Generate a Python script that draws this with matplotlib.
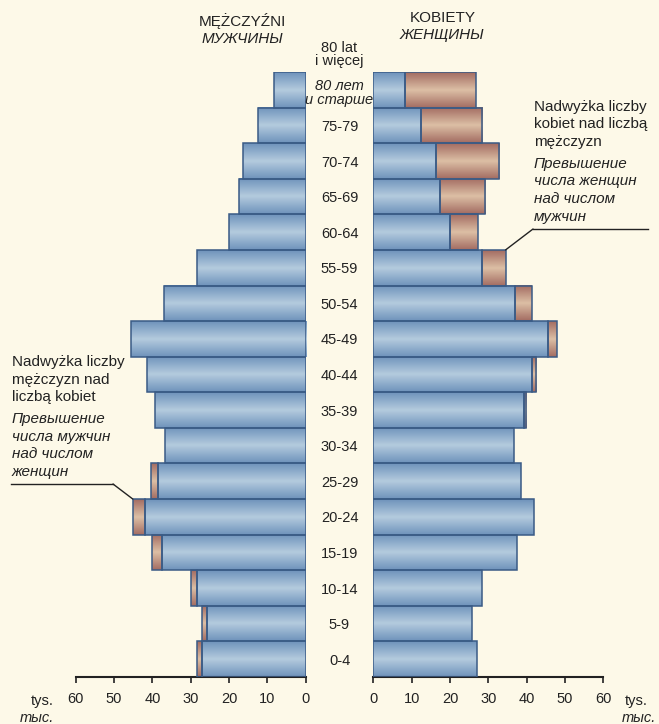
import numpy as np
import matplotlib.pyplot as plt
import matplotlib.transforms as mtransforms
from matplotlib.colors import LinearSegmentedColormap
from matplotlib.lines import Line2D

# population by age group, thousands (bottom -> top)
ages = ['0-4', '5-9', '10-14', '15-19', '20-24', '25-29', '30-34', '35-39',
        '40-44', '45-49', '50-54', '55-59', '60-64', '65-69', '70-74', '75-79', '80+']
men = [28.3, 27.0, 29.8, 40.0, 45.1, 40.4, 36.6, 39.2, 41.3, 45.7,
       37.0, 28.4, 20.0, 17.4, 16.4, 12.4, 8.3]
women = [27.1, 25.7, 28.3, 37.5, 42.0, 38.5, 36.6, 39.9, 42.5, 47.8,
         41.3, 34.5, 27.3, 29.2, 32.9, 28.4, 26.7]
ticks = [0, 10, 20, 30, 40, 50, 60]

W, H = 659, 724
bg = '#fdf9e8'
edge = '#3a5b86'
ink = '#222222'

plt.rcParams['font.family'] = ['Liberation Sans', 'DejaVu Sans']
small = 10.5


def fx(x):
    return x / W


def fy(y):
    return 1 - y / H


fig = plt.figure(figsize=(W / 100, H / 100), dpi=100, facecolor=bg)
ax_l = fig.add_axes([fx(75.7), fy(677), (305.7 - 75.7) / W, 605 / H])
ax_r = fig.add_axes([fx(373.3), fy(677), (603.3 - 373.3) / W, 605 / H])

blue_cm = LinearSegmentedColormap.from_list('b', ['#6f93bb', '#b4cbde', '#6f93bb'])
brown_cm = LinearSegmentedColormap.from_list('r', ['#a36c62', '#dcbfa5', '#a36c62'])
grad = np.linspace(0, 1, 64).reshape(-1, 1)

y = np.arange(len(ages))
men = np.array(men)
women = np.array(women)
common = np.minimum(men, women)


def shaded_bars(ax, left, width, cmap):
    bars = ax.barh(y, width, left=left, height=1.0, facecolor='none',
                   edgecolor=edge, linewidth=1.1, zorder=3)
    for b in bars:
        if b.get_width() <= 0.05:
            b.set_visible(False)
            continue
        x0 = b.get_x()
        x1 = x0 + b.get_width()
        y0 = b.get_y()
        ax.imshow(grad, cmap=cmap, extent=(x0, x1, y0, y0 + b.get_height()),
                  aspect='auto', origin='lower', zorder=2, interpolation='bilinear')


for ax, tot in [(ax_l, men), (ax_r, women)]:
    shaded_bars(ax, 0, common, blue_cm)
    shaded_bars(ax, common, tot - common, brown_cm)
    ax.set_ylim(-0.5, 16.5)
    ax.set_facecolor('none')
    for s in ['top', 'left', 'right']:
        ax.spines[s].set_visible(False)
    ax.spines['bottom'].set_linewidth(1.5)
    ax.spines['bottom'].set_color(ink)
    ax.set_yticks([])
    ax.set_xticks(ticks)
    ax.tick_params(axis='x', direction='out', length=4.5, width=1.2, color=ink,
                   pad=6, labelsize=small, labelcolor=ink)

ax_l.set_xlim(60, 0)
ax_r.set_xlim(0, 60)

# age labels in the middle
trans = mtransforms.blended_transform_factory(fig.transFigure, ax_r.transData)
for i, a in enumerate(ages[:-1]):
    fig.text(fx(339.5), i - 0.157, a, transform=trans, ha='center', va='baseline',
             fontsize=small, color=ink)
top = len(ages) - 1
fig.text(fx(339.5), top + 1.07, '80 lat', transform=trans, ha='center', va='baseline',
         fontsize=small, color=ink)
fig.text(fx(339.5), top + 0.70, 'i więcej', transform=trans, ha='center', va='baseline',
         fontsize=small, color=ink)
fig.text(fx(339.5), top - 0.01, '80 лет', transform=trans, ha='center', va='baseline',
         fontsize=small, style='italic', color=ink)
fig.text(fx(339.5), top - 0.40, 'и старше', transform=trans, ha='center', va='baseline',
         fontsize=small, style='italic', color=ink)

# titles
fig.text(fx(242.3), fy(26), 'MĘŻCZYŹNI', ha='center', va='baseline', fontsize=11, color=ink)
fig.text(fx(242), fy(42.7), 'МУЖЧИНЫ', ha='center', va='baseline', fontsize=11,
         style='italic', color=ink)
fig.text(fx(442.8), fy(21.7), 'KOBIETY', ha='center', va='baseline', fontsize=11, color=ink)
fig.text(fx(442), fy(38.5), 'ЖЕНЩИНЫ', ha='center', va='baseline', fontsize=11,
         style='italic', color=ink)

# units
fig.text(fx(54), fy(705), 'tys.', ha='right', va='baseline', fontsize=small, color=ink)
fig.text(fx(54), fy(722), 'тыс.', ha='right', va='baseline', fontsize=small,
         style='italic', color=ink)
fig.text(fx(625), fy(705), 'tys.', ha='left', va='baseline', fontsize=small, color=ink)
fig.text(fx(656), fy(722), 'тыс.', ha='right', va='baseline', fontsize=small,
         style='italic', color=ink)


def note(x, base, pl, ru):
    yy = base
    for line in pl:
        fig.text(fx(x), fy(yy), line, ha='left', va='baseline', fontsize=11, color=ink)
        yy += 17.7
    yy += 4
    for line in ru:
        fig.text(fx(x), fy(yy), line, ha='left', va='baseline', fontsize=11,
                 style='italic', color=ink)
        yy += 17.7


note(11.7, 366, ['Nadwyżka liczby', 'mężczyzn nad', 'liczbą kobiet'],
     ['Превышение', 'числа мужчин', 'над числом', 'женщин'])
note(534, 110.7, ['Nadwyżka liczby', 'kobiet nad liczbą', 'mężczyzn'],
     ['Превышение', 'числа женщин', 'над числом', 'мужчин'])

# leader lines
fig.add_artist(Line2D([fx(11), fx(113)], [fy(484), fy(484)], color=ink, lw=1.0))
ax_l.annotate('', xy=(men[4], 4.5), xytext=(fx(113), fy(484)), textcoords='figure fraction',
              arrowprops=dict(arrowstyle='-', color=ink, lw=1.0, shrinkA=0, shrinkB=0))
fig.add_artist(Line2D([fx(533), fx(648)], [fy(229), fy(229)], color=ink, lw=1.0))
ax_r.annotate('', xy=(women[11], 11.5), xytext=(fx(533), fy(229)), textcoords='figure fraction',
              arrowprops=dict(arrowstyle='-', color=ink, lw=1.0, shrinkA=0, shrinkB=0))

fig.savefig('out.png', dpi=100, facecolor=bg)
